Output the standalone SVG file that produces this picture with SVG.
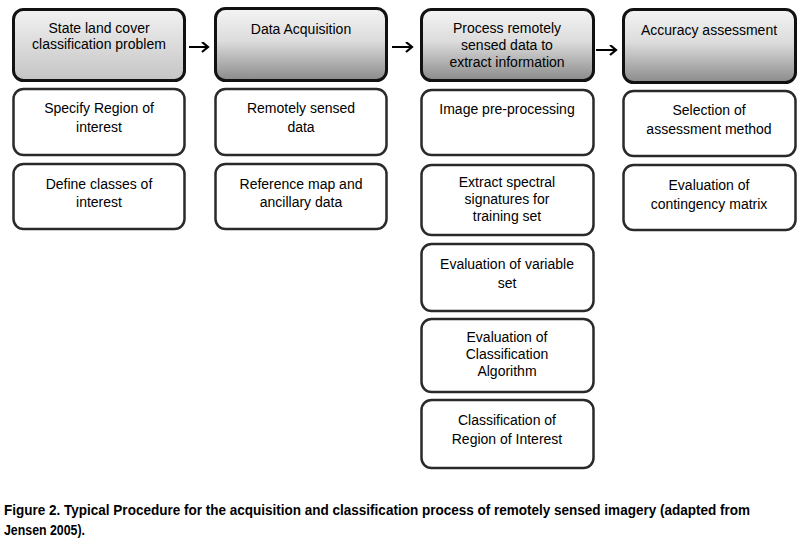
<svg xmlns="http://www.w3.org/2000/svg" width="805" height="544" viewBox="0 0 805 544">
<defs>
<linearGradient id="g1" x1="0" y1="0" x2="0" y2="1">
<stop offset="0" stop-color="#f2f2f2"/><stop offset="1" stop-color="#c4c4c4"/>
</linearGradient>
<linearGradient id="g2" x1="0" y1="0" x2="0" y2="1">
<stop offset="0" stop-color="#f4f4f4"/><stop offset="0.45" stop-color="#dcdcdc"/><stop offset="1" stop-color="#8a8a8a"/>
</linearGradient>
<marker id="ah" markerWidth="10" markerHeight="12" refX="7" refY="5" orient="auto" markerUnits="userSpaceOnUse">
<path d="M1,0 L7,5 L1,10" fill="none" stroke="#000" stroke-width="2.2"/>
</marker>
<style>
.hd{stroke:#111;stroke-width:3;}
.bx{fill:#fff;stroke:#2a2a2a;stroke-width:2.5;}
text{font-family:"Liberation Sans",Arial,sans-serif;font-size:14px;fill:#000;text-anchor:middle;}
.cap{font-size:14px;font-weight:bold;text-anchor:start;}
.cn{stroke:#000;stroke-width:2;fill:none;}
</style>
</defs>
<rect width="805" height="544" fill="#fff"/>
<g id="connectors">
<line class="cn" x1="189" y1="47" x2="208" y2="47" marker-end="url(#ah)"/>
<line class="cn" x1="392" y1="47" x2="412" y2="47" marker-end="url(#ah)"/>
<line class="cn" x1="596" y1="50" x2="616" y2="50" marker-end="url(#ah)"/>
</g>
<g id="h1"><rect class="hd" x="13.5" y="9.5" width="171" height="71" rx="10" fill="url(#g1)"/>
<text x="99" y="33">State land cover</text><text x="99" y="49">classification problem</text></g>
<g id="c1b1"><rect class="bx" x="13.5" y="89" width="171" height="66" rx="10"/>
<text x="99" y="113">Specify Region of</text><text x="99" y="132">interest</text></g>
<g id="c1b2"><rect class="bx" x="13.5" y="164" width="171" height="65" rx="10"/>
<text x="99" y="189">Define classes of</text><text x="99" y="207">interest</text></g>

<g id="h2"><rect class="hd" x="215.5" y="8.5" width="171" height="72" rx="10" fill="url(#g2)"/>
<text x="301" y="34">Data Acquisition</text></g>
<g id="c2b1"><rect class="bx" x="215.5" y="89" width="171" height="66" rx="10"/>
<text x="301" y="113">Remotely sensed</text><text x="301" y="132">data</text></g>
<g id="c2b2"><rect class="bx" x="215.5" y="164" width="171" height="65" rx="10"/>
<text x="301" y="189">Reference map and</text><text x="301" y="207">ancillary data</text></g>

<g id="h3"><rect class="hd" x="421.5" y="9.5" width="172" height="71" rx="10" fill="url(#g2)"/>
<text x="507" y="33">Process remotely</text><text x="507" y="50">sensed data to</text><text x="507" y="67">extract information</text></g>
<g id="c3b1"><rect class="bx" x="421.5" y="90" width="172" height="65" rx="10"/>
<text x="507" y="114">Image pre-processing</text></g>
<g id="c3b2"><rect class="bx" x="421.5" y="165" width="172" height="70" rx="10"/>
<text x="507" y="187">Extract spectral</text><text x="507" y="204">signatures for</text><text x="507" y="221">training set</text></g>
<g id="c3b3"><rect class="bx" x="421.5" y="244" width="172" height="67" rx="10"/>
<text x="507" y="269">Evaluation of variable</text><text x="507" y="288">set</text></g>
<g id="c3b4"><rect class="bx" x="421.5" y="319" width="172" height="73" rx="10"/>
<text x="507" y="342">Evaluation of</text><text x="507" y="359">Classification</text><text x="507" y="376">Algorithm</text></g>
<g id="c3b5"><rect class="bx" x="421.5" y="400" width="172" height="68" rx="10"/>
<text x="507" y="425">Classification of</text><text x="507" y="444">Region of Interest</text></g>

<g id="h4"><rect class="hd" x="623.5" y="9.5" width="172" height="73" rx="10" fill="url(#g2)"/>
<text x="709" y="35">Accuracy assessment</text></g>
<g id="c4b1"><rect class="bx" x="623.5" y="91" width="172" height="65" rx="10"/>
<text x="709" y="115">Selection of</text><text x="709" y="134">assessment method</text></g>
<g id="c4b2"><rect class="bx" x="623.5" y="165" width="172" height="65" rx="10"/>
<text x="709" y="190">Evaluation of</text><text x="709" y="209">contingency matrix</text></g>

<g id="caption">
<text class="cap" x="4" y="515" textLength="746" lengthAdjust="spacingAndGlyphs">Figure 2. Typical Procedure for the acquisition and classification process of remotely sensed imagery (adapted from</text>
<text class="cap" x="4" y="535" textLength="81" lengthAdjust="spacingAndGlyphs">Jensen 2005).</text>
</g>
</svg>
